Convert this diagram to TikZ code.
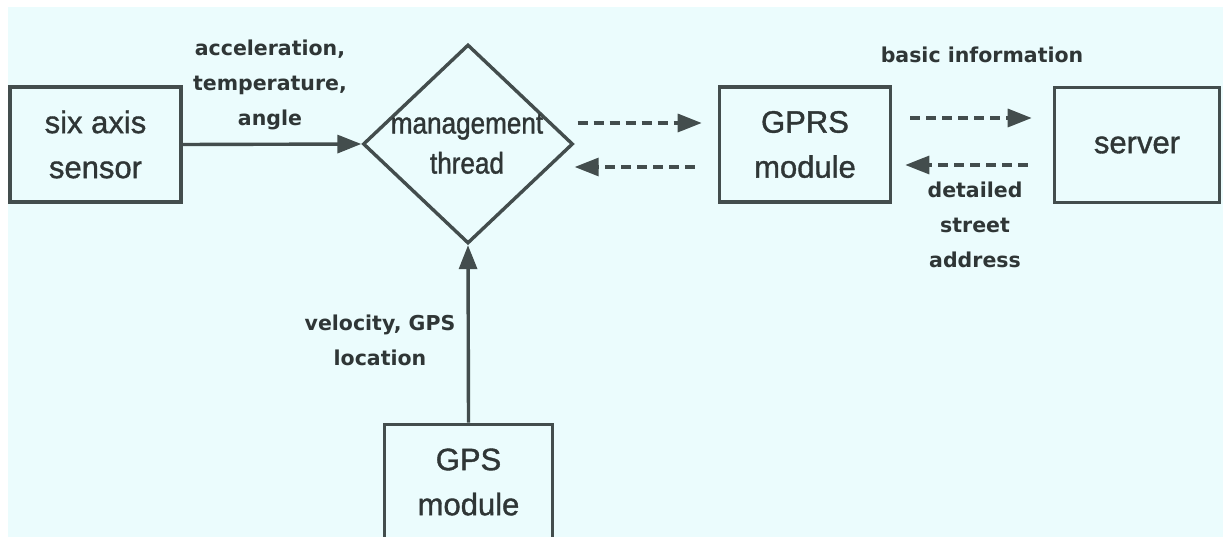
\documentclass[tikz,border=0pt]{standalone}
\usepackage{fontspec}
\setmainfont{Liberation Sans}
\newfontfamily\boxfont[UprightFeatures={FakeBold=1.2}]{Liberation Sans}
\newfontfamily\labelfont{DejaVu Sans}
\newfontfamily\narrowfont[UprightFeatures={FakeStretch=0.87,FakeBold=1.2}]{Liberation Sans}
\usetikzlibrary{calc}
\usetikzlibrary{shapes.geometric}
\usetikzlibrary{arrows.meta}

\definecolor{bgcyan}{HTML}{EBFCFD}
\definecolor{ink}{HTML}{434D4D}
\definecolor{inktext}{HTML}{2F3636}

\begin{document}
\begin{tikzpicture}[x=1pt,y=-1pt,
	box/.style={draw=ink,line width=3.6pt,text=inktext,align=center,inner sep=0pt,
		font=\boxfont\fontsize{31}{45}\selectfont},
	lbl/.style={text=inktext,align=center,inner sep=0pt,
		font=\labelfont\bfseries\fontsize{20.5}{35}\selectfont},
	feed/.style={draw=ink,line width=3.4pt,-{Triangle[length=24pt,width=18pt]}},
	link/.style={feed,line width=3.2pt,dash pattern=on 10pt off 6pt}]
	\fill[white] (0,0) rectangle (1223,537);
	\fill[bgcyan] (8,7) rectangle (1223,537);
	\useasboundingbox (0,0) rectangle (1223,537);
	\clip (0,0) rectangle (1223,537);

	\node[box,minimum width=171pt,minimum height=115pt] (sensor) at (95.5,144.5) {six axis\\sensor};
	\node[draw=ink,line width=3.4pt,shape=diamond,inner sep=0pt,
		minimum width=210pt,minimum height=199pt] (thread) at (468,144) {};
	\node[text=inktext,align=center,inner sep=0pt,font=\narrowfont\fontsize{30}{40}\selectfont]
		(threadtext) at (467,144) {management\\thread};
	\node[box,minimum width=171pt,minimum height=115pt] (gprs) at (805,144.5) {GPRS\\module};
	\node[box,minimum width=165pt,minimum height=115pt] (server) at (1137,145) {server};
	\node[box,minimum width=168pt,minimum height=115pt] (gps) at (468.5,482) {GPS\\module};

	\draw[feed] (sensor.east) -- (thread.west);
	\draw[feed] (gps.north) -- (thread.south);
	\draw[link] ([shift={(3,-21)}]thread.east) -- ([shift={(-16,-21.5)}]gprs.west);
	\draw[link] ([shift={(-23,22.5)}]gprs.west) -- ([shift={(0,23)}]thread.east);
	\draw[link] ([shift={(18,-26.5)}]gprs.east) -- ([shift={(-21,-27)}]server.west);
	\draw[link] ([shift={(-25,20)}]server.west) -- ([shift={(13,20.5)}]gprs.east);

	\node[lbl] (sensorlbl) at (270,85) {acceleration,\\temperature,\\angle};
	\node[lbl,anchor=base] (uplbl) at (982,63) {basic information};
	\node[lbl] (downlbl) at (975,224.5) {detailed\\street\\address};
	\node[lbl] (gpslbl) at (380,340) {velocity, GPS\\location};
\end{tikzpicture}
\end{document}
